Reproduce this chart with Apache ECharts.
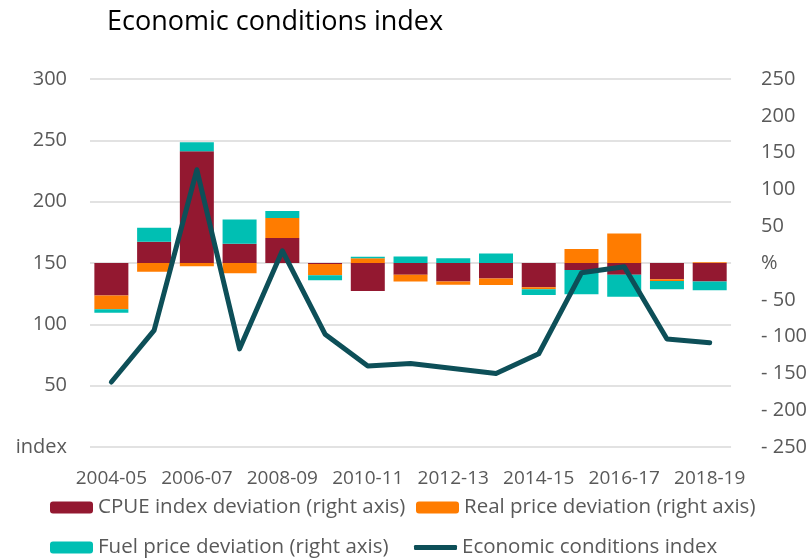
<!DOCTYPE html>
<html>
<head>
<meta charset="utf-8">
<script src="https://cdn.jsdelivr.net/npm/echarts@6/dist/echarts.min.js"></script>
<style>
  html, body { margin: 0; padding: 0; background: #fff; }
  #chart { width: 810px; height: 559px; }
</style>
</head>
<body>
<div id="chart"></div>
<script>
// financial years on the x axis
const years = ['2004-05', '2005-06', '2006-07', '2007-08', '2008-09', '2009-10', '2010-11',
  '2011-12', '2012-13', '2013-14', '2014-15', '2015-16', '2016-17', '2017-18', '2018-19'];

// deviations in % (right axis)
const cpueDeviation = [-44, 29, 152, 26, 34, -1.5, -38, -16, -25, -21, -33, -9.5, -16, -22, -25];
const realPriceDeviation = [-19, -12, -4.5, -14, 27, -15, 6.5, -9, -4.5, -9, -2.5, 19, 40, -2.5, 1];
const fuelPriceDeviation = [-4.5, 19, 12, 33, 9.5, -7, 2, 9, 6.5, 13, -8, -33, -30, -11, -12];

// economic conditions index (left axis)
const economicIndex = [53, 95, 226, 80, 160, 92, 66, 68, 64, 60, 76, 142, 147, 88, 85];

const FONT = 'Open Sans';
const TEXT_GREY = '#595959';

const chart = echarts.init(document.getElementById('chart'));

const legendText = {
  fontFamily: FONT,
  fontSize: 20.5,
  color: TEXT_GREY,
};

const option = {
  backgroundColor: '#fff',
  animation: false,
  title: {
    text: 'Economic conditions index',
    left: 102,
    top: 4,
    textStyle: {
      fontFamily: FONT,
      fontSize: 27,
      fontWeight: 'normal',
      color: '#000',
    },
  },
  // one legend per item so the two rows line up like the original
  legend: [
    { data: ['CPUE index deviation (right axis)'], left: 45, top: 492 },
    { data: ['Real price deviation (right axis)'], left: 411, top: 492 },
    { data: ['Fuel price deviation (right axis)'], left: 45, top: 532 },
    {
      data: [{ name: 'Economic conditions index', icon: 'roundRect' }],
      left: 409,
      top: 532,
      itemHeight: 5,
    },
  ].map((l) => ({
    itemWidth: 43,
    itemHeight: 12,
    itemGap: 0,
    textStyle: legendText,
    selectedMode: false,
    ...l,
  })),
  grid: {
    left: 90,
    right: 77,
    top: 79,
    bottom: 112,
    containLabel: false,
  },
  xAxis: {
    type: 'category',
    data: years,
    axisLine: { show: false },
    axisTick: { show: false },
    axisLabel: {
      interval: 1,
      margin: 22,
      fontFamily: FONT,
      fontSize: 19,
      color: TEXT_GREY,
    },
  },
  yAxis: [
    {
      type: 'value',
      min: 0,
      max: 300,
      interval: 50,
      axisLine: { show: false },
      axisTick: { show: false },
      splitLine: { lineStyle: { color: '#d9d9d9', width: 1.5 } },
      axisLabel: {
        margin: 23,
        fontFamily: FONT,
        fontSize: 20,
        color: TEXT_GREY,
        formatter: (v) => (v === 0 ? 'index' : v),
      },
    },
    {
      type: 'value',
      min: -250,
      max: 250,
      interval: 50,
      axisLine: { show: false },
      axisTick: { show: false },
      splitLine: { show: false },
      axisLabel: {
        margin: 30,
        fontFamily: FONT,
        fontSize: 20,
        color: TEXT_GREY,
        formatter: (v) => {
          if (v === 0) return '%';
          if (v < 0) return '- ' + (-v);
          return v;
        },
      },
    },
  ],
  series: [
    {
      name: 'CPUE index deviation (right axis)',
      type: 'bar',
      stack: 'dev',
      yAxisIndex: 1,
      barWidth: 34,
      itemStyle: { color: '#931830' },
      data: cpueDeviation,
    },
    {
      name: 'Real price deviation (right axis)',
      type: 'bar',
      stack: 'dev',
      yAxisIndex: 1,
      barWidth: 34,
      itemStyle: { color: '#ff7c00' },
      data: realPriceDeviation,
    },
    {
      name: 'Fuel price deviation (right axis)',
      type: 'bar',
      stack: 'dev',
      yAxisIndex: 1,
      barWidth: 34,
      itemStyle: { color: '#00bfb3' },
      data: fuelPriceDeviation,
    },
    {
      name: 'Economic conditions index',
      type: 'line',
      yAxisIndex: 0,
      showSymbol: false,
      symbol: 'none',
      z: 5,
      lineStyle: { color: '#0d4f58', width: 5, cap: 'round', join: 'round' },
      itemStyle: { color: '#0d4f58' },
      data: economicIndex,
    },
  ],
};

chart.setOption(option);
</script>
</body>
</html>
